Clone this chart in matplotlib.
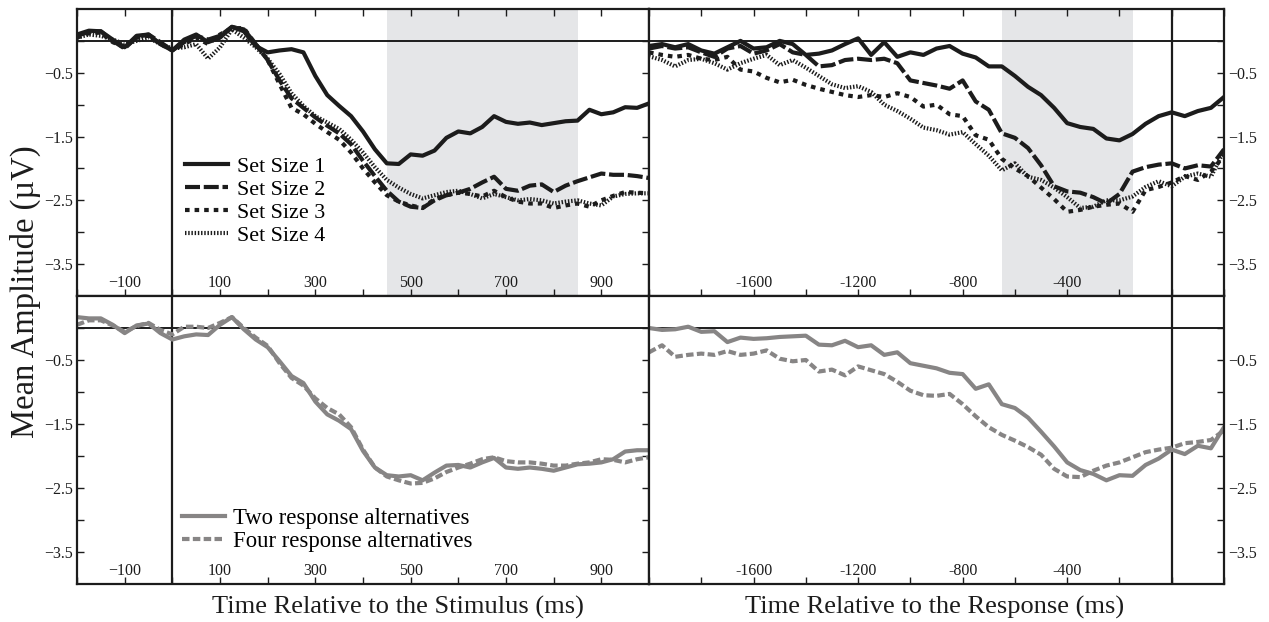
import numpy as np
from matplotlib import pyplot as plt

# ---- stimulus-locked data (ms, uV) ----
stim_t = np.arange(-200, 1001, 25)

ss1_stim = [0.10, 0.16, 0.15, 0.02, -0.10, 0.08, 0.10, -0.05, -0.15, 0.02,
            0.10, -0.02, 0.05, 0.22, 0.15, -0.08, -0.18, -0.15, -0.13, -0.18,
            -0.55, -0.85, -1.02, -1.18, -1.42, -1.70, -1.92, -1.93, -1.78, -1.80,
            -1.72, -1.52, -1.42, -1.45, -1.35, -1.18, -1.27, -1.30, -1.28, -1.32,
            -1.29, -1.26, -1.25, -1.08, -1.15, -1.12, -1.04, -1.05, -0.98]
ss2_stim = [0.08, 0.14, 0.15, 0.00, -0.12, 0.06, 0.10, -0.02, -0.15, -0.02,
            0.08, 0.02, 0.08, 0.22, 0.18, -0.05, -0.30, -0.62, -0.90, -1.05,
            -1.20, -1.33, -1.45, -1.62, -1.88, -2.12, -2.35, -2.52, -2.60, -2.62,
            -2.50, -2.42, -2.38, -2.32, -2.22, -2.13, -2.32, -2.35, -2.27, -2.25,
            -2.37, -2.27, -2.20, -2.14, -2.08, -2.10, -2.10, -2.12, -2.15]
ss3_stim = [0.05, 0.12, 0.13, -0.02, -0.10, 0.05, 0.08, -0.05, -0.15, -0.05,
            0.05, -0.05, 0.10, 0.20, 0.20, -0.05, -0.30, -0.68, -1.05, -1.15,
            -1.30, -1.43, -1.55, -1.75, -2.00, -2.22, -2.42, -2.52, -2.58, -2.62,
            -2.48, -2.42, -2.38, -2.40, -2.44, -2.35, -2.45, -2.52, -2.55, -2.55,
            -2.62, -2.58, -2.55, -2.60, -2.50, -2.43, -2.37, -2.38, -2.39]
ss4_stim = [0.05, 0.10, 0.08, 0.02, -0.05, 0.00, 0.05, -0.05, -0.12, -0.10,
            -0.05, -0.28, -0.10, 0.18, 0.05, -0.10, -0.28, -0.52, -0.82, -1.02,
            -1.18, -1.28, -1.38, -1.55, -1.75, -1.98, -2.18, -2.30, -2.40, -2.47,
            -2.42, -2.37, -2.35, -2.40, -2.47, -2.40, -2.45, -2.50, -2.48, -2.50,
            -2.55, -2.52, -2.50, -2.55, -2.58, -2.44, -2.40, -2.39, -2.39]

two_stim = [0.17, 0.15, 0.15, 0.05, -0.08, 0.04, 0.07, -0.08, -0.18, -0.13,
            -0.10, -0.11, 0.05, 0.17, -0.02, -0.18, -0.30, -0.52, -0.75, -0.86,
            -1.15, -1.35, -1.45, -1.58, -1.92, -2.18, -2.30, -2.32, -2.30, -2.38,
            -2.26, -2.15, -2.14, -2.18, -2.10, -2.03, -2.18, -2.20, -2.18, -2.20,
            -2.23, -2.18, -2.13, -2.12, -2.10, -2.05, -1.93, -1.91, -1.91]
four_stim = [0.05, 0.12, 0.12, 0.04, -0.06, 0.03, 0.08, -0.03, -0.10, 0.02,
             0.02, 0.00, 0.08, 0.17, 0.00, -0.15, -0.28, -0.55, -0.78, -0.90,
             -1.10, -1.25, -1.35, -1.55, -1.90, -2.18, -2.32, -2.38, -2.43, -2.42,
             -2.35, -2.25, -2.18, -2.12, -2.05, -2.02, -2.08, -2.10, -2.10, -2.12,
             -2.15, -2.15, -2.12, -2.10, -2.05, -2.06, -2.10, -2.05, -2.02]

# ---- response-locked data ----
resp_t = np.arange(-2000, 201, 50)

ss1_resp = [-0.08, -0.05, -0.10, -0.05, -0.15, -0.20, -0.10, 0.00, -0.12, -0.10,
            0.00, -0.05, -0.22, -0.20, -0.15, -0.05, 0.04, -0.22, -0.02, -0.25,
            -0.18, -0.22, -0.12, -0.08, -0.20, -0.26, -0.40, -0.40, -0.55, -0.72,
            -0.85, -1.05, -1.29, -1.35, -1.38, -1.53, -1.56, -1.46, -1.30, -1.18,
            -1.12, -1.18, -1.10, -1.05, -0.88]
ss2_resp = [-0.12, -0.08, -0.12, -0.10, -0.18, -0.25, -0.12, -0.08, -0.20, -0.15,
            -0.05, -0.18, -0.22, -0.40, -0.38, -0.30, -0.28, -0.30, -0.28, -0.35,
            -0.62, -0.66, -0.70, -0.75, -0.62, -0.95, -1.08, -1.45, -1.52, -1.68,
            -1.95, -2.28, -2.36, -2.38, -2.45, -2.55, -2.40, -2.05, -1.98, -1.94,
            -1.92, -2.00, -1.95, -1.97, -1.70]
ss3_resp = [-0.18, -0.22, -0.25, -0.22, -0.28, -0.30, -0.25, -0.45, -0.48, -0.58,
            -0.65, -0.61, -0.69, -0.75, -0.80, -0.85, -0.88, -0.85, -0.88, -0.82,
            -0.88, -1.03, -1.00, -1.15, -1.18, -1.48, -1.55, -1.85, -2.00, -2.12,
            -2.30, -2.48, -2.68, -2.65, -2.60, -2.57, -2.55, -2.68, -2.34, -2.29,
            -2.22, -2.12, -2.18, -2.05, -1.80]
ss4_resp = [-0.24, -0.30, -0.40, -0.30, -0.28, -0.35, -0.45, -0.35, -0.28, -0.22,
            -0.38, -0.30, -0.42, -0.55, -0.68, -0.74, -0.71, -0.80, -1.00, -1.10,
            -1.22, -1.36, -1.40, -1.47, -1.43, -1.62, -1.80, -2.03, -1.92, -2.13,
            -2.18, -2.30, -2.45, -2.62, -2.60, -2.50, -2.50, -2.44, -2.29, -2.20,
            -2.28, -2.13, -2.08, -2.13, -1.72]

two_resp = [0.00, -0.03, -0.02, 0.02, -0.06, -0.05, -0.22, -0.15, -0.17, -0.16,
            -0.14, -0.13, -0.12, -0.26, -0.27, -0.20, -0.30, -0.27, -0.42, -0.38,
            -0.55, -0.59, -0.63, -0.70, -0.72, -0.95, -0.88, -1.19, -1.25, -1.40,
            -1.62, -1.85, -2.10, -2.22, -2.28, -2.38, -2.30, -2.31, -2.14, -2.04,
            -1.90, -1.97, -1.84, -1.88, -1.55]
four_resp = [-0.38, -0.27, -0.45, -0.42, -0.40, -0.42, -0.36, -0.42, -0.40, -0.35,
             -0.48, -0.52, -0.50, -0.68, -0.65, -0.74, -0.60, -0.66, -0.72, -0.84,
             -0.98, -1.05, -1.06, -1.03, -1.19, -1.38, -1.55, -1.67, -1.76, -1.86,
             -1.98, -2.20, -2.32, -2.33, -2.23, -2.15, -2.10, -2.02, -1.94, -1.90,
             -1.87, -1.80, -1.78, -1.75, -1.60]

set_labels = ["Set Size 1", "Set Size 2", "Set Size 3", "Set Size 4"]
resp_labels = ["Two response alternatives", "Four response alternatives"]

stim_window = (450, 850)
resp_window = (-650, -150)

stim_ticks = [-100, 100, 300, 500, 700, 900]
stim_ticklabels = ["\u2212100", "100", "300", "500", "700", "900"]
resp_ticks = [-1600, -1200, -800, -400]
resp_ticklabels = ["-1600", "-1200", "-800", "-400"]
y_ticks = [-0.5, -1.5, -2.5, -3.5]
y_ticklabels = ["\u22120.5", "\u22121.5", "\u22122.5", "\u22123.5"]

plt.rcParams["font.family"] = ["Liberation Serif", "DejaVu Serif"]

BLACK = "#1c1c1c"
GRAY = "#878585"
LW = 3.0
set_styles = [
    dict(ls="-"),
    dict(ls=(0, (3.6, 0.9))),
    dict(ls=(0, (1.1, 1.2))),
    dict(ls=(0, (0.35, 0.42))),
]
resp_styles = [dict(ls="-"), dict(ls=(0, (1.8, 0.8)))]

fig = plt.figure(figsize=(12.69, 6.22), dpi=100)
W, H = 1269.0, 622.0
ax_tl = fig.add_axes([77 / W, 1 - 296 / H, 572 / W, 287 / H])
ax_tr = fig.add_axes([649 / W, 1 - 296 / H, 575 / W, 287 / H])
ax_bl = fig.add_axes([77 / W, 1 - 584 / H, 572 / W, 288 / H])
ax_br = fig.add_axes([649 / W, 1 - 584 / H, 575 / W, 288 / H])


def setup(ax, stim, top):
    ax.set_ylim(-4.0, 0.5)
    if stim:
        ax.set_xlim(-200, 1000)
        ax.set_xticks(stim_ticks)
        ax.set_xticklabels(stim_ticklabels)
        ax.set_xticks(np.arange(-200, 1001, 100), minor=True)
    else:
        ax.set_xlim(-2000, 200)
        ax.set_xticks(resp_ticks)
        ax.set_xticklabels(resp_ticklabels)
        ax.set_xticks(np.arange(-2000, 201, 200), minor=True)
    ax.set_yticks(y_ticks)
    ax.set_yticklabels(y_ticklabels)
    ax.set_yticks([0.0, -1.0, -2.0, -3.0], minor=True)
    for s in ax.spines.values():
        s.set_linewidth(1.6)
        s.set_color(BLACK)
    ax.tick_params(axis="x", which="both", direction="in", length=5, width=1.0,
                   top=top, bottom=True, labelsize=11.5, pad=-15, colors=BLACK)
    if stim:
        ax.tick_params(axis="y", which="both", direction="in", length=5, width=1.0,
                       left=True, right=True, labelleft=True, labelright=False,
                       labelsize=11.5, pad=3, colors=BLACK)
    else:
        ax.tick_params(axis="y", which="both", direction="in", length=5, width=1.0,
                       left=False, right=True, labelleft=False, labelright=True,
                       labelsize=11.5, pad=3, colors=BLACK)
    ax.axhline(0, color=BLACK, lw=1.4, zorder=1)
    ax.axvline(0, color=BLACK, lw=1.6, zorder=1)


setup(ax_tl, True, True)
setup(ax_tr, False, True)
setup(ax_bl, True, False)
setup(ax_br, False, False)

ax_tl.axvspan(*stim_window, color="#e5e6e8", lw=0, zorder=0)
ax_tr.axvspan(*resp_window, color="#e5e6e8", lw=0, zorder=0)

handles = []
for ys, lab, st in zip([ss1_stim, ss2_stim, ss3_stim, ss4_stim], set_labels, set_styles):
    h, = ax_tl.plot(stim_t, ys, color=BLACK, lw=LW, dash_capstyle="butt", label=lab, **st)
    handles.append(h)
for ys, st in zip([ss1_resp, ss2_resp, ss3_resp, ss4_resp], set_styles):
    ax_tr.plot(resp_t, ys, color=BLACK, lw=LW, dash_capstyle="butt", **st)

handles2 = []
for ys, lab, st in zip([two_stim, four_stim], resp_labels, resp_styles):
    h, = ax_bl.plot(stim_t, ys, color=GRAY, lw=LW, dash_capstyle="butt", label=lab, **st)
    handles2.append(h)
for ys, st in zip([two_resp, four_resp], resp_styles):
    ax_br.plot(resp_t, ys, color=GRAY, lw=LW, dash_capstyle="butt", **st)

ax_tl.legend(handles=handles, loc="upper left", bbox_to_anchor=(0.188, 0.485),
             frameon=False, fontsize=15.8, handlelength=2.0, handletextpad=0.4,
             labelspacing=0.12, borderpad=0, borderaxespad=0)
ax_bl.legend(handles=handles2, loc="upper left", bbox_to_anchor=(0.183, 0.265),
             frameon=False, fontsize=16.4, handlelength=1.9, handletextpad=0.35,
             labelspacing=0.1, borderpad=0, borderaxespad=0)

fig.text(398 / W, 1 - 607 / H, "Time Relative to the Stimulus (ms)", ha="center",
         va="center", fontsize=19, color=BLACK)
fig.text(935 / W, 1 - 607 / H, "Time Relative to the Response (ms)", ha="center",
         va="center", fontsize=19, color=BLACK)
fig.text(25 / W, 1 - 292 / H, "Mean Amplitude (\u00b5V)", ha="center", va="center",
         rotation=90, fontsize=23.5, color=BLACK)

fig.savefig("out.png", dpi=100)
